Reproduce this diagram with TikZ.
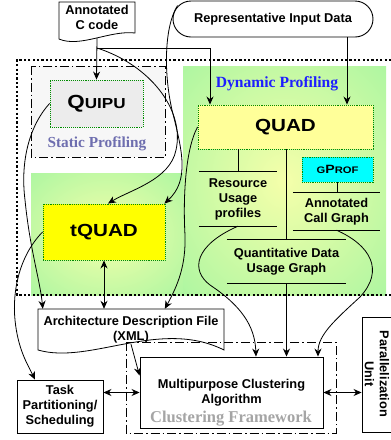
\documentclass[tikz,border=0pt]{standalone}
\usepackage{fontspec}
\setmainfont{Liberation Sans}
\newfontfamily\serifrm{Liberation Serif}
\newfontfamily\widebf[FakeStretch=1.18]{Liberation Sans}
\usetikzlibrary{arrows.meta,calc}
\definecolor{gin}{RGB}{245,255,170}
\definecolor{gout}{RGB}{165,245,160}
\definecolor{statbl}{RGB}{110,110,175}
\definecolor{dynbl}{RGB}{30,30,255}
\definecolor{qyel}{RGB}{255,255,153}
\definecolor{tyel}{RGB}{255,255,0}
\definecolor{gcyan}{RGB}{0,255,255}
\definecolor{bordg}{RGB}{0,140,0}
\definecolor{cfgray}{RGB}{165,165,165}
\pgfdeclareradialshading{gy}{\pgfpoint{0bp}{0bp}}{color(0bp)=(gin); color(40bp)=(gout); color(50bp)=(gout)}
\begin{document}
\begin{tikzpicture}[x=1pt,y=-1pt,
  lbl/.style={font=\fontsize{12.8pt}{15pt}\selectfont\bfseries, align=center, inner sep=0pt},
  box/.style={draw, line width=0.9pt, fill=white, inner sep=0pt},
  gbox/.style={draw=bordg, densely dotted, line width=0.9pt, inner sep=0pt},
  con/.style={line width=0.8pt},
  arr/.style={con, -{Stealth[length=8pt,width=7pt]}},
  darr/.style={con, {Stealth[length=8pt,width=7pt]}-{Stealth[length=8pt,width=7pt]}},
  dashdot/.style={line width=0.9pt, dash pattern=on 9pt off 3pt on 1.5pt off 3pt},
  outerdot/.style={line width=1.3pt, dash pattern=on 2.2pt off 2.2pt},
]
\useasboundingbox (0,0) rectangle (391,440);
\clip (0,0) rectangle (391,440);

% green dynamic region
\shade[shading=gy] (183,66) rectangle (386,295);
\shade[shading=gy] (31,173) rectangle (183,295);

% static box
\draw[dashdot, fill=gray!6] (31,66) rectangle (165,157);

% outer dotted frame
\draw[outerdot] (400,60) -- (17,60) -- (17,295) -- (400,295);

% document shapes
\draw[con, fill=white] (59,2) -- (135,2) -- (135,33) .. controls (110,30) and (80,48) .. (59,39) -- cycle;
\draw[con, fill=white] (38,309) -- (224,309) -- (224,350) .. controls (160,318) and (90,365) .. (38,350) -- cycle;

% clustering framework frame
\draw[dashdot] (126,342) rectangle (336,433);

% nodes
\node[lbl] (acode) at (97,17.5) {Annotated\\C code};
\coordinate (abot) at (97,38);
\coordinate (split) at (97,48);

\node[box, lbl, rounded corners=18pt, minimum width=200pt, minimum height=36pt] (rep) at (273,19) {Representative Input Data};

\node[gbox, fill=gray!15, minimum width=93pt, minimum height=47pt] (quipu) at (96.5,103.5)
  {\widebf\bfseries\fontsize{19pt}{19pt}\selectfont Q\fontsize{14.5pt}{14.5pt}\selectfont UIPU};
\node[font=\serifrm\bfseries\fontsize{15.3pt}{16pt}\selectfont, text=statbl, inner sep=0pt] (stat) at (97,144) {Static Profiling};

\node[font=\serifrm\bfseries\fontsize{15.6pt}{16pt}\selectfont, text=dynbl, inner sep=0pt] (dyn) at (277,84) {Dynamic Profiling};

\node[gbox, fill=qyel, minimum width=175pt, minimum height=44pt] (quad) at (285.5,127)
  {\widebf\bfseries\fontsize{17.5pt}{17.5pt}\selectfont QUAD};

\node[gbox, fill=gcyan, minimum width=71pt, minimum height=25pt] (gprof) at (337.5,169.5)
  {\widebf\bfseries\fontsize{9.5pt}{9.5pt}\selectfont G\fontsize{12pt}{12pt}\selectfont P\fontsize{9.5pt}{9.5pt}\selectfont ROF};

\node[gbox, fill=tyel, minimum width=122pt, minimum height=56pt] (tquad) at (104,232)
  {\widebf\bfseries\fontsize{17.5pt}{17.5pt}\selectfont tQUAD};

\node[lbl, minimum width=78pt, minimum height=54pt] (rup) at (238,199) {Resource\\Usage\\profiles};
\node[lbl, minimum width=87pt, minimum height=37pt] (acg) at (336.5,211.5) {Annotated\\Call Graph};
\node[lbl, minimum width=119pt, minimum height=43pt] (qdug) at (286.5,261.5) {Quantitative Data\\Usage Graph};

\node[lbl, minimum width=186pt, minimum height=41pt] (arch) at (131,329.5) {Architecture Description File\\(XML)};

\node[box, minimum width=183pt, minimum height=71pt] (multi) at (231.5,392.5) {};
\node[lbl] (multit) at (231.5,392.5) {Multipurpose Clustering\\Algorithm};
\node[font=\serifrm\bfseries\fontsize{16.5pt}{16pt}\selectfont, text=cfgray, inner sep=0pt] (cf) at (231,419) {Clustering Framework};

\node[box, lbl, minimum width=86pt, minimum height=53pt] (task) at (60,406.5) {Task\\Partitioning/\\Scheduling};

\node[box, minimum width=50pt, minimum height=115pt] (par) at (387,374.5) {};
\node[lbl, rotate=-90] (part) at (377,374) {Parallelization\\Unit};

% data store lines
\draw[con] (rup.north west) -- (rup.north east) (rup.south west) -- (rup.south east);
\draw[con] (acg.north west) -- (acg.north east) (acg.south west) -- (acg.south east);
\draw[con] (qdug.north west) -- (qdug.north east) (qdug.south west) -- (qdug.south east);

% stems
\draw[con] (rup.north) -- (rup.north |- quad.south);
\draw[con] (qdug.north) -- (qdug.north |- quad.south);
\draw[con] (gprof.south) -- (gprof.south |- acg.north);

% connectors
\coordinate (qin) at ([xshift=-75.5pt]quad.north);
\coordinate (rs) at ([xshift=74pt]rep.south);
\draw[arr] (abot) -- (quipu.north);
\draw[arr] (split) -- (split -| qin) -- (qin);
\draw[arr] (rs) -- (rs |- quad.north);

\draw[arr] (split) .. controls (150,65) and (185,110) .. (176,150) .. controls (170,180) and (130,190) .. ([xshift=4pt]tquad.north);
\draw[arr] ([xshift=5pt,yshift=-5pt]rep.north west) .. controls (165,25) and (163,70) .. (172,110) .. controls (182,150) and (190,180) .. ([xshift=-1pt]tquad.north east);
\draw[arr] (quad.west) .. controls (185,150) and (183,200) .. (185,235) .. controls (186,265) and (178,285) .. ([xshift=127pt]arch.north west);
\draw[arr] (quipu.west) .. controls (30,125) and (20,160) .. (25,200) .. controls (30,250) and (40,280) .. ([xshift=5pt]arch.north west);
\draw[arr] (tquad.west) .. controls (20,255) and (12,290) .. (15,320) .. controls (18,350) and (28,365) .. ([xshift=-25pt]task.north);
\draw[darr] (tquad.south) -- (tquad.south |- arch.north);

\coordinate (archb) at ([yshift=6pt]arch.south);
\draw[arr] (archb) -- ([yshift=-19pt]multi.north west);
\draw[darr] (multi.west -| task.east) -- (multi.west);
\draw[darr] (multi.east) -- (multi.east -| par.west);

\draw[arr] (qdug.south) -- (qdug.south |- multi.north);
\draw[arr] (rup.south) .. controls (195,245) and (190,270) .. (210,285) .. controls (240,305) and (255,325) .. ([xshift=24.5pt]multi.north);
\draw[arr] (acg.south) .. controls (370,245) and (385,270) .. (360,297) .. controls (335,320) and (318,335) .. ([xshift=86.5pt]multi.north);
\end{tikzpicture}
\end{document}
